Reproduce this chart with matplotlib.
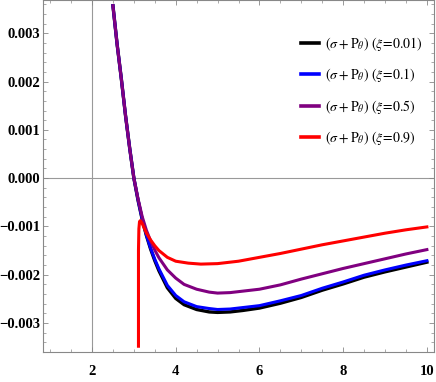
import matplotlib.pyplot as plt
from matplotlib.ticker import MultipleLocator, FuncFormatter

# Data
x_main = [2.5, 2.6, 2.7, 2.8, 2.9, 3.0, 3.1, 3.2, 3.3, 3.4, 3.5, 3.6, 3.8, 4.0, 4.2, 4.5,
          4.8, 5.0, 5.3, 5.6, 6.0, 6.5, 7.0, 7.5, 8.0, 8.5, 9.0, 9.5, 10.0]
y_black = [0.00357, 0.00277, 0.00206, 0.00130, 0.00062, 0.0, -0.00046, -0.00086,
           -0.00119, -0.00147, -0.00171, -0.00192, -0.00227, -0.00249, -0.00262, -0.00272,
           -0.00277, -0.00278, -0.00277, -0.00274, -0.00269, -0.00259, -0.00247,
           -0.00232, -0.00219, -0.00205, -0.00194, -0.00184, -0.00174]
y_blue = [0.00357, 0.00277, 0.00206, 0.00130, 0.00062, 0.0, -0.00045, -0.00085,
          -0.00118, -0.00145, -0.00168, -0.00188, -0.00222, -0.00243, -0.00256, -0.00266,
          -0.00270, -0.00272, -0.00271, -0.00268, -0.00264, -0.00254, -0.00243,
          -0.00228, -0.00215, -0.00201, -0.00190, -0.00180, -0.00171]
y_purple = [0.00357, 0.00277, 0.00206, 0.00130, 0.00062, 0.0, -0.00043, -0.00080,
            -0.00108, -0.00130, -0.00149, -0.00165, -0.00190, -0.00207, -0.00220, -0.00230,
            -0.00236, -0.00238, -0.00237, -0.00234, -0.00230, -0.00221, -0.00209,
            -0.00198, -0.00187, -0.00177, -0.00167, -0.00157, -0.00148]

x_red = [3.11, 3.11, 3.12, 3.135, 3.155, 3.2, 3.3, 3.4, 3.5, 3.6, 3.8, 4.0, 4.3,
         4.6, 5.0, 5.5, 6.0, 6.5, 7.0, 7.5, 8.0, 8.5, 9.0, 9.5, 10.0]
y_red = [-0.00348, -0.00150, -0.00105, -0.00090, -0.00088, -0.00094, -0.00114,
         -0.00128, -0.00140, -0.00150, -0.00164, -0.00172, -0.00176, -0.00178,
         -0.00177, -0.00172, -0.00164, -0.00156, -0.00147, -0.00138, -0.00130,
         -0.00122, -0.00114, -0.00107, -0.00101]

labels = [r"$(\sigma+\mathrm{P}_{\theta})\ (\xi\!=\!0.01)$",
          r"$(\sigma+\mathrm{P}_{\theta})\ (\xi\!=\!0.1)$",
          r"$(\sigma+\mathrm{P}_{\theta})\ (\xi\!=\!0.5)$",
          r"$(\sigma+\mathrm{P}_{\theta})\ (\xi\!=\!0.9)$"]
colors = ["black", "#0000ff", "#800080", "#ff0000"]

plt.rcParams['mathtext.fontset'] = 'stix'

fig = plt.figure(figsize=(4.36, 3.82), dpi=100)
ax = fig.add_axes([0.0986, 0.0785, 0.8968, 0.9205])

# Mathematica-style axes lines through (2, 0)
ax.axvline(2, color="#999999", lw=0.8, zorder=1)
ax.axhline(0, color="#999999", lw=0.8, zorder=1)

ax.plot(x_main, y_black, color=colors[0], lw=2.4, label=labels[0], zorder=3)
ax.plot(x_main, y_blue, color=colors[1], lw=2.2, label=labels[1], zorder=4)
ax.plot(x_main, y_purple, color=colors[2], lw=2.2, label=labels[2], zorder=5)
ax.plot(x_red, y_red, color=colors[3], lw=2.2, label=labels[3], zorder=6)

ax.set_xlim(0.829, 10.17)
ax.set_ylim(-0.0036, 0.00368)

ax.xaxis.set_major_locator(MultipleLocator(2))
ax.xaxis.set_minor_locator(MultipleLocator(0.5))
ax.yaxis.set_major_locator(MultipleLocator(0.001))
ax.yaxis.set_minor_locator(MultipleLocator(0.0002))

def yfmt(v, pos):
    s = f"{abs(v):.3f}"
    return ("\u2212" + s) if v < -1e-12 else s

ax.yaxis.set_major_formatter(FuncFormatter(yfmt))

for sp in ax.spines.values():
    sp.set_color("#888888")
    sp.set_linewidth(0.8)

ax.tick_params(which="both", direction="in", top=True, right=True, colors="#888888")
ax.tick_params(which="major", length=3.5, width=0.6)
ax.tick_params(which="minor", length=2.0, width=0.5)
ax.tick_params(axis="x", which="major", pad=9)
ax.tick_params(axis="y", which="major", pad=2)

for lab in ax.get_xticklabels() + ax.get_yticklabels():
    lab.set_fontfamily("Liberation Serif")
    lab.set_fontweight("bold")
    lab.set_fontsize(10.5)
    lab.set_color("black")

leg = ax.legend(loc="upper left", bbox_to_anchor=(0.645, 0.917), frameon=False,
                fontsize=10, handlelength=1.3, handletextpad=0.45,
                labelspacing=0.95, borderaxespad=0)
for line in leg.get_lines():
    line.set_linewidth(2.6)

fig.savefig("out.png", dpi=100)
